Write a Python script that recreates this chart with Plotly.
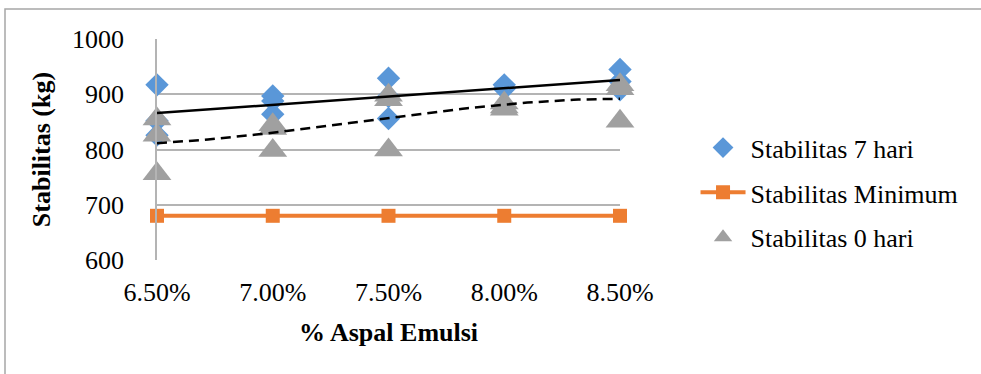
import numpy as np
import plotly.graph_objects as go

# % aspal emulsi (x) and tick labels
kadar_aspal = [6.5, 7.0, 7.5, 8.0, 8.5]
label_kadar = ["6.50%", "7.00%", "7.50%", "8.00%", "8.50%"]

# Stabilitas (kg) per benda uji, grouped by kadar aspal
stabilitas_7_hari = [
    [917, 852, 826],
    [897, 888, 864],
    [929, 896, 856],
    [917, 910],
    [945, 923, 908],
]
stabilitas_0_hari = [
    [855, 826, 756],
    [845, 838, 798],
    [898, 890, 799],
    [884, 877, 873],
    [917, 910, 851],
]
stabilitas_minimum = [680, 680, 680, 680, 680]

FONT = "Times New Roman"
BLUE = "#5A97D8"
GREY = "#A0A0A0"
ORANGE = "#ED7D31"
GRID = "#B4B4B4"


def flatten(groups):
    xs, ys = [], []
    for x, vals in zip(kadar_aspal, groups):
        for v in vals:
            xs.append(x)
            ys.append(v)
    return np.array(xs), np.array(ys)


x7, y7 = flatten(stabilitas_7_hari)
x0, y0 = flatten(stabilitas_0_hari)

# trendlines: linear for 7 hari, 3rd-order polynomial for 0 hari
xs = np.linspace(kadar_aspal[0], kadar_aspal[-1], 101)
lin7 = np.polyval(np.polyfit(x7, y7, 1), xs)
poly0 = np.polyval(np.polyfit(x0, y0, 3), xs)

fig = go.Figure()

fig.add_trace(go.Scatter(
    x=x7, y=y7, mode="markers", name="Stabilitas 7 hari",
    legendgroup="a",
    marker=dict(symbol="diamond", size=18, color=BLUE,
                line=dict(width=0)),
    cliponaxis=False,
))
fig.add_trace(go.Scatter(
    x=kadar_aspal, y=stabilitas_minimum, mode="lines+markers",
    name="Stabilitas Minimum", legendgroup="b",
    line=dict(color=ORANGE, width=4),
    marker=dict(symbol="square", size=14, color=ORANGE),
    cliponaxis=False,
))
fig.add_trace(go.Scatter(
    x=x0, y=y0, mode="markers", name="Stabilitas 0 hari",
    legendgroup="c",
    marker=dict(symbol="triangle-up", size=25, color=GREY,
                line=dict(width=0)),
    cliponaxis=False,
))
fig.add_trace(go.Scatter(
    x=xs, y=lin7, mode="lines", showlegend=False,
    line=dict(color="black", width=2.5),
    hoverinfo="skip",
))
fig.add_trace(go.Scatter(
    x=xs, y=poly0, mode="lines", showlegend=False,
    line=dict(color="black", width=2.5, dash="10px,6px"),
    hoverinfo="skip",
))

L, R, T, B = 157, 361, 39, 114
W, H = 981, 374
pw, ph = W - L - R, H - T - B


def px_x(p):
    return (p - L) / pw


def px_y(p):
    return (H - B - p) / ph


fig.update_layout(
    width=W, height=H,
    margin=dict(l=L, r=R, t=T, b=B, pad=0),
    paper_bgcolor="white", plot_bgcolor="white",
    font=dict(family=FONT, size=26, color="black"),
    showlegend=True,
    legend=dict(
        xref="container", yref="container",
        x=0.709, y=0.668, xanchor="left", yanchor="top",
        font=dict(family=FONT, size=26),
        itemsizing="trace", itemwidth=45,
        tracegroupgap=8, traceorder="grouped",
        bgcolor="rgba(0,0,0,0)",
    ),
    xaxis=dict(
        range=[kadar_aspal[0], kadar_aspal[-1]],
        tickvals=kadar_aspal, ticktext=label_kadar,
        showgrid=False, zeroline=False, showline=False,
        ticks="", ticklabelstandoff=14,
        tickfont=dict(family=FONT, size=26),
        title=dict(text="<b>% Aspal Emulsi</b>", standoff=16,
                   font=dict(family=FONT, size=26)),
    ),
    yaxis=dict(
        range=[600, 1000], tickvals=[600, 700, 800, 900, 1000],
        showgrid=True, gridcolor=GRID, gridwidth=1.5,
        zeroline=False, showline=True, linecolor=GRID, linewidth=1.5,
        ticks="", ticklabelstandoff=26,
        tickfont=dict(family=FONT, size=26),
        title=dict(text="<b>Stabilitas (kg)</b>", standoff=14,
                   font=dict(family=FONT, size=26)),
    ),
    shapes=[
        dict(type="rect", xref="paper", yref="paper",
             x0=px_x(5), x1=px_x(995), y0=px_y(390), y1=px_y(9),
             line=dict(color="#A6A6A6", width=1.5), layer="below"),
    ],
)

fig.write_html("out.html")
